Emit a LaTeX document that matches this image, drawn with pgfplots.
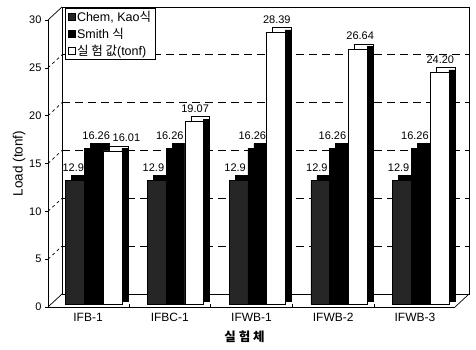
\documentclass[border=0pt]{standalone}
\usepackage{pgfplots}
\usepackage{pgfplotstable}
\pgfplotsset{compat=1.18}
\usepackage{fontspec}
\setmainfont{Liberation Sans}
\newfontfamily\kr{Noto Sans CJK KR}
\pgfplotstableread{
x  chem  smith  expv   xa     xb     xc    la    lb     lc
0  12.9  16.26  16.01  -0.18  0.10   0.47  12.9  16.26  16.01
1  12.9  16.26  19.07  0.80   1.00   1.31  12.9  16.26  19.07
2  12.9  16.26  28.39  1.80   2.01   2.31  12.9  16.26  28.39
3  12.9  16.26  26.64  2.80   2.99   3.33  12.9  16.26  26.64
4  12.9  16.26  24.20  3.80   4.00   4.31  12.9  16.26  24.20
}\data
\begin{document}
\begin{tikzpicture}[font=\fontsize{11}{13}\selectfont]
\pgfplotsset{
  /pgf/number format/assume math mode=true,
  common/.style={width=407pt,height=287pt,scale only axis,
    xmin=-0.49,xmax=4.49,ymin=0,ymax=30,clip=false},
  bw/.style={ybar, bar width=0.23, draw=black, line width=0.5pt},
  lbl/.style={only marks, mark=none, point meta=explicit symbolic,
    nodes near coords, nodes near coords style={anchor=south, inner sep=1pt, yshift=11pt,
      font=\fontsize{11}{13}\selectfont}},
}
\path[use as bounding box] (-48pt,-42pt) rectangle (428pt,307pt);
% back wall
\begin{axis}[common, name=back, at={(14pt,13pt)}, anchor=south west,
  xtick=\empty, ytick={5,10,15,20,25}, yticklabels={}, major tick length=0pt,
  ymajorgrids, grid style={black, line width=1pt, dash pattern=on 8pt off 5pt},
  axis line style={black, line width=0.7pt},
  legend style={at={(0.008,0.997)}, anchor=north west, draw=black, line width=0.7pt,
    font=\fontsize{12.5}{14}\selectfont, row sep=1pt, inner xsep=2pt, inner ysep=1pt,
    fill=white},
  legend cell align=left,
  legend image code/.code={\draw[#1, line width=0.4pt] (0pt,-3.5pt) rectangle (7pt,3.5pt);},
  ]
  \addlegendimage{fill=black!85, draw=black}
  \addlegendentry{Chem, Kao{\kr 식}}
  \addlegendimage{fill=black, draw=black}
  \addlegendentry{Smith {\kr 식}}
  \addlegendimage{fill=white, draw=black}
  \addlegendentry{{\kr 실 험 값}(tonf)}
\end{axis}
% front
\begin{axis}[common, name=front, at={(0pt,0pt)}, anchor=south west,
  axis x line*=bottom, axis y line*=left, axis line style={-, line width=0.8pt},
  xtick={0,1,2,3,4}, xticklabels={IFB-1,IFBC-1,IFWB-1,IFWB-2,IFWB-3},
  xticklabel style={font=\fontsize{12}{14}\selectfont},
  xtick style={draw=none},
  extra x ticks={0.5,1.5,2.5,3.5}, extra x tick labels={},
  extra x tick style={xtick style={draw=black, line width=0.5pt}, major tick length=3pt, tick align=inside},
  ytick={0,5,...,30}, ytick style={black, line width=0.6pt}, major tick length=3pt, tick align=outside,
  xlabel={\kr\bfseries 실 험 체}, xlabel style={font=\fontsize{12.5}{14}\selectfont, xshift=-7pt, yshift=1pt},
  ylabel={Load (tonf)}, ylabel style={font=\fontsize{13.5}{15}\selectfont, yshift=-3pt},
  ]
  % diagonal connectors from ticks to back wall
  \pgfplotsinvokeforeach{5,10,15,20,25}{
    \draw[black, line width=0.7pt, dash pattern=on 3pt off 3pt] (axis cs:-0.49,#1) -- ++(14pt,13pt);
  }
  % Chem, Kao
  \addplot[bw, bar shift=-0.16, fill=black, xshift=6pt, yshift=8pt, forget plot]
    table[x=x, y=chem] {\data};
  \addplot[bw, bar shift=-0.16, fill=black!85, yshift=3pt]
    table[x=x, y=chem] {\data};
  \addplot[lbl] table[x=xa, y=chem, meta=la] {\data};
  % Smith
  \addplot[bw, bar shift=0.07, fill=black, xshift=6pt, yshift=8pt, forget plot]
    table[x=x, y=smith] {\data};
  \addplot[bw, bar shift=0.07, fill=black, yshift=3pt]
    table[x=x, y=smith] {\data};
  % Experiment
  \addplot[bw, bar shift=0.30, fill=white, xshift=6pt, yshift=8pt, forget plot]
    table[x=x, y=expv] {\data};
  \addplot[ybar, bar width=6pt, bar shift=0.415, fill=black, draw=black, line width=0.5pt,
    xshift=3pt, yshift=5.5pt, forget plot]
    table[x=x, y=expv] {\data};
  \addplot[bw, bar shift=0.30, fill=white, yshift=3pt]
    table[x=x, y=expv] {\data};
  \addplot[lbl] table[x=xb, y=smith, meta=lb] {\data};
  \addplot[lbl] table[x=xc, y=expv, meta=lc] {\data};
\end{axis}
\draw[black, line width=0.7pt] (front.south west) -- (back.south west);
\draw[black, line width=0.7pt] (front.south east) -- (back.south east);
\draw[black, line width=0.7pt] (front.north west) -- (back.north west);
\end{tikzpicture}
\end{document}
